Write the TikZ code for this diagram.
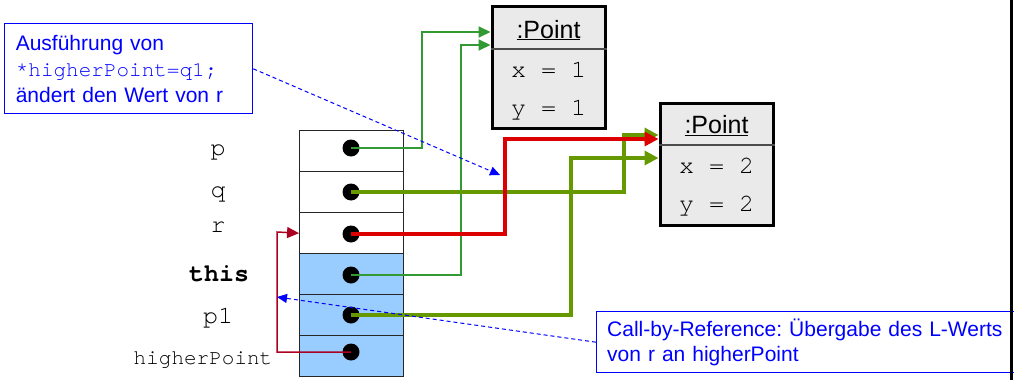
\documentclass[tikz,border=0pt]{standalone}
\usepackage{fontspec}
\setmainfont{Liberation Sans}
\setmonofont{TeX Gyre Cursor}
\frenchspacing
\usetikzlibrary{arrows.meta}
\definecolor{cellblue}{HTML}{99CCFF}
\definecolor{ptgray}{HTML}{EAEAEA}
\definecolor{lgreen}{HTML}{339933}
\definecolor{olive}{HTML}{669900}
\definecolor{ptred}{HTML}{DD0000}
\definecolor{darkred}{HTML}{AA0022}

\begin{document}
\begin{tikzpicture}[x=1pt,y=-1pt,
	cell/.style={draw=black!85, line width=1.3pt, minimum width=104pt, minimum height=41pt, inner sep=0pt},
	dot/.style={circle, fill=black, minimum size=17pt, inner sep=0pt},
	lbl/.style={anchor=base, font=\fontsize{25}{30}\selectfont\ttfamily},
	ptbox/.style={draw, line width=3pt, fill=ptgray, minimum width=113pt, minimum height=122pt, inner sep=0pt},
	ptitle/.style={anchor=base, font=\fontsize{25}{30}\selectfont},
	pval/.style={anchor=base, font=\fontsize{25}{30}\selectfont\ttfamily},
	note/.style={draw=blue, text=blue, line width=1pt, align=left, font=\fontsize{21}{26.3}\selectfont},
	thin/.style={line width=2pt, -{Triangle[length=12pt,width=11pt]}},
	thick/.style={line width=3.5pt, -{Triangle[length=14pt,width=14pt]}},
	bline/.style={blue, line width=1pt, dash pattern=on 4pt off 3pt, -{Triangle[length=10pt,width=9pt]}}]
	\useasboundingbox (0,0) rectangle (1014,380);

	% notes
	\node[note, text width=226pt, inner sep=11pt, anchor=north west] (n1) at (4.3,23.3)
		{Ausführung von\\{\ttfamily *higherPoint=q1;}\\ändert den Wert von r};
	\node[note, text width=400pt, inner xsep=10.7pt, inner ysep=0pt, minimum height=61pt, anchor=west,
		font=\fontsize{21}{25}\selectfont] (n2) at (596,342.2)
		{Call-by-Reference: Übergabe des L-Werts\\von r an higherPoint};

	% objects
	\node[ptbox] (pta) at (548.5,67.9) {};
	\draw[black!70, line width=1.3pt] (pta.west |- 0,49) -- (pta.east |- 0,49);
	\node[ptitle] at (548.5,38) {\underline{:Point}};
	\node[pval] at (548.5,77) {x = 1};
	\node[pval] at (548.5,115) {y = 1};

	\node[ptbox] (ptb) at (716.5,164.2) {};
	\draw[black!70, line width=1.3pt] (ptb.west |- 0,145) -- (ptb.east |- 0,145);
	\node[ptitle] at (716.5,133.5) {\underline{:Point}};
	\node[pval] at (716.5,173.3) {x = 2};
	\node[pval] at (716.5,211) {y = 2};

	% stack
	\node[cell] (p) at (351.7,151.2) {};
	\node[cell] (q) at (351.7,192.2) {};
	\node[cell] (r) at (351.7,233.2) {};
	\node[cell, fill=cellblue] (this) at (351.7,274.2) {};
	\node[cell, fill=cellblue] (p1) at (351.7,315.2) {};
	\node[cell, fill=cellblue] (hp) at (351.7,356.2) {};

	\node[dot] (dp) at (351,148) {};
	\node[dot] (dq) at (351,192) {};
	\node[dot] (dr) at (351,234) {};
	\node[dot] (dthis) at (351,275) {};
	\node[dot] (dp1) at (351,315) {};
	\node[dot] (dhp) at (351,352) {};

	\node[lbl] (lp) at (218,155) {p};
	\node[lbl] (lq) at (218,197) {q};
	\node[lbl] (lr) at (218,232.7) {r};
	\node[lbl, font=\fontsize{25}{30}\selectfont\ttfamily\bfseries] (lthis) at (219,281.7) {this};
	\node[lbl] (lp1) at (218,323) {p1};
	\node[lbl, font=\fontsize{21}{25}\selectfont\ttfamily] (lhp) at (203,364) {higherPoint};

	% pointers
	\draw[thin, lgreen] (dp.center) -| (422,32) -- (pta.west |- 0,32);
	\draw[thin, lgreen] (dthis.center) -| (461,45) -- (pta.west |- 0,45);
	\draw[thick, olive] (dq.center) -| (624,135) -- (ptb.west |- 0,135);
	\draw[thick, olive] (dp1.center) -| (571,158) -- (ptb.west |- 0,158);
	\draw[thick, ptred] (dr.center) -| (505,139) -- (ptb.west |- 0,139);
	\draw[darkred, line width=1.5pt, -{Triangle[length=12pt,width=11pt]}] (dhp.center) -| (277,232) -- (r.west);

	% hints
	\coordinate (t1) at (500,175);
	\coordinate (t2) at (277,297);
	\draw[bline] (n1.east) -- (t1);
	\draw[bline] (n2.west) -- (t2);

	\draw[line width=3pt] (1011.5,0) -- (1011.5,380);
\end{tikzpicture}
\end{document}
